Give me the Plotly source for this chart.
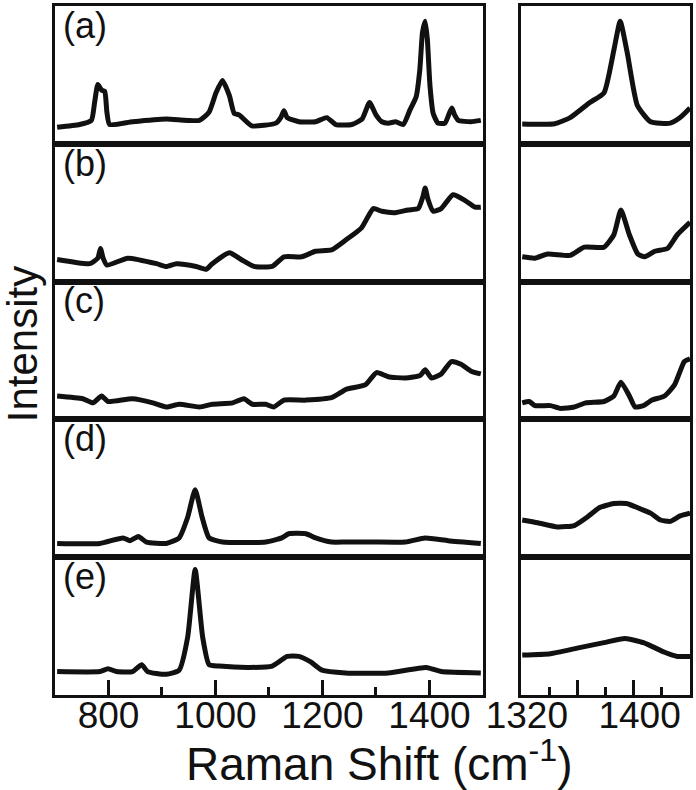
import plotly.graph_objects as go
from plotly.subplots import make_subplots

# spectra, intensity normalised to panel height (0..1)
a_full_x = [704, 746, 768, 774, 780, 787, 793, 797, 802, 845, 908, 970, 988, 1001, 1013, 1026, 1035, 1044, 1068, 1113, 1122, 1128, 1134, 1156, 1187, 1208, 1225, 1255, 1274, 1288, 1300, 1311, 1323, 1337, 1351, 1364, 1375, 1382, 1387, 1392, 1396, 1401, 1407, 1416, 1429, 1438, 1442, 1447, 1454, 1477, 1496]
a_full_y = [0.12, 0.14, 0.17, 0.30, 0.43, 0.39, 0.38, 0.23, 0.14, 0.16, 0.18, 0.17, 0.23, 0.37, 0.46, 0.35, 0.22, 0.21, 0.13, 0.15, 0.19, 0.24, 0.19, 0.16, 0.16, 0.19, 0.14, 0.14, 0.18, 0.30, 0.21, 0.16, 0.15, 0.16, 0.14, 0.25, 0.34, 0.54, 0.81, 0.89, 0.76, 0.42, 0.22, 0.15, 0.15, 0.23, 0.26, 0.21, 0.17, 0.16, 0.17]
a_zoom_x = [1321, 1344, 1355, 1369, 1379, 1386, 1390.5, 1395.5, 1402.6, 1412, 1426, 1433, 1440]
a_zoom_y = [0.144, 0.145, 0.19, 0.30, 0.37, 0.68, 0.89, 0.66, 0.28, 0.16, 0.15, 0.19, 0.26]

b_full_x = [704, 765, 780, 785, 790, 797, 836, 890, 908, 927, 964, 983, 994, 1026, 1048, 1072, 1106, 1128, 1161, 1187, 1217, 1243, 1273, 1295, 1311, 1336, 1360, 1379, 1388, 1392, 1397, 1407, 1422, 1444, 1466, 1485, 1496]
b_full_y = [0.16, 0.13, 0.17, 0.24, 0.17, 0.12, 0.17, 0.13, 0.11, 0.13, 0.11, 0.09, 0.13, 0.21, 0.16, 0.11, 0.11, 0.18, 0.18, 0.22, 0.23, 0.30, 0.39, 0.53, 0.51, 0.50, 0.52, 0.53, 0.62, 0.68, 0.60, 0.51, 0.53, 0.63, 0.59, 0.54, 0.54]
b_zoom_x = [1321, 1330, 1339, 1355, 1365, 1379, 1386, 1391, 1397, 1403, 1408, 1415, 1424, 1431, 1440]
b_zoom_y = [0.18, 0.17, 0.20, 0.19, 0.25, 0.25, 0.34, 0.52, 0.34, 0.20, 0.18, 0.22, 0.24, 0.34, 0.43]

c_full_x = [704, 752, 771, 787, 799, 845, 883, 908, 932, 970, 994, 1032, 1053, 1069, 1094, 1109, 1128, 1169, 1218, 1245, 1280, 1301, 1323, 1355, 1383, 1392, 1404, 1422, 1441, 1459, 1478, 1496]
c_full_y = [0.17, 0.15, 0.12, 0.17, 0.13, 0.15, 0.12, 0.09, 0.11, 0.09, 0.11, 0.12, 0.15, 0.11, 0.11, 0.09, 0.14, 0.14, 0.16, 0.22, 0.25, 0.34, 0.31, 0.30, 0.32, 0.36, 0.30, 0.33, 0.42, 0.40, 0.35, 0.33]
c_zoom_x = [1321, 1326, 1330, 1341, 1348, 1358, 1366, 1379, 1386, 1391, 1397, 1401, 1407, 1413, 1422, 1429, 1436, 1440]
c_zoom_y = [0.12, 0.13, 0.10, 0.10, 0.08, 0.09, 0.12, 0.13, 0.17, 0.27, 0.17, 0.09, 0.10, 0.14, 0.17, 0.25, 0.42, 0.44]

d_full_x = [704, 784, 827, 840, 856, 871, 908, 932, 948, 962, 975, 988, 1013, 1094, 1124, 1137, 1169, 1187, 1217, 1243, 1292, 1355, 1392, 1435, 1496]
d_full_y = [0.10, 0.10, 0.14, 0.12, 0.15, 0.11, 0.10, 0.14, 0.29, 0.49, 0.29, 0.14, 0.11, 0.11, 0.14, 0.17, 0.17, 0.14, 0.11, 0.11, 0.11, 0.11, 0.14, 0.12, 0.10]
d_zoom_x = [1321, 1332, 1346, 1358, 1367, 1376, 1386, 1395, 1405, 1412, 1419, 1426, 1433, 1440]
d_zoom_y = [0.27, 0.25, 0.22, 0.23, 0.29, 0.36, 0.39, 0.39, 0.35, 0.32, 0.27, 0.26, 0.30, 0.32]

e_full_x = [704, 784, 799, 815, 845, 862, 873, 908, 932, 948, 962, 976, 988, 1007, 1063, 1106, 1134, 1156, 1178, 1199, 1243, 1323, 1394, 1422, 1496]
e_full_y = [0.17, 0.17, 0.19, 0.17, 0.17, 0.22, 0.17, 0.15, 0.18, 0.42, 0.91, 0.42, 0.22, 0.21, 0.20, 0.21, 0.28, 0.28, 0.24, 0.18, 0.16, 0.16, 0.20, 0.17, 0.16]
e_zoom_x = [1321, 1341, 1360, 1379, 1394, 1407, 1422, 1431, 1440]
e_zoom_y = [0.29, 0.30, 0.34, 0.38, 0.41, 0.38, 0.31, 0.28, 0.28]

labels = ["(a)", "(b)", "(c)", "(d)", "(e)"]
full = [(a_full_x, a_full_y), (b_full_x, b_full_y), (c_full_x, c_full_y), (d_full_x, d_full_y), (e_full_x, e_full_y)]
zoom = [(a_zoom_x, a_zoom_y), (b_zoom_x, b_zoom_y), (c_zoom_x, c_zoom_y), (d_zoom_x, d_zoom_y), (e_zoom_x, e_zoom_y)]

FONT = "Liberation Sans, Arial, Helvetica, sans-serif"
INK = "#111111"

fig = make_subplots(rows=5, cols=2, column_widths=[430, 170],
                    horizontal_spacing=0.0596, vertical_spacing=0)

line = dict(color=INK, width=5, shape="spline", smoothing=0.5)

for i in range(5):
    fig.add_trace(go.Scatter(x=full[i][0], y=full[i][1], mode="lines", line=line,
                             showlegend=False, hoverinfo="skip"), row=i+1, col=1)
    fig.add_trace(go.Scatter(x=zoom[i][0], y=zoom[i][1], mode="lines", line=line,
                             showlegend=False, hoverinfo="skip"), row=i+1, col=2)
    fig.add_annotation(text=labels[i], xref="x domain", yref="y domain",
                       x=0.014, y=0.86, xanchor="left", yanchor="middle",
                       showarrow=False, font=dict(size=36, color=INK, family=FONT),
                       row=i+1, col=1)

axis_line = dict(showline=True, linewidth=3, linecolor=INK, mirror=True,
                 showgrid=False, zeroline=False)

fig.update_yaxes(range=[0, 1], showticklabels=False, ticks="", **axis_line)
fig.update_xaxes(showticklabels=False, ticks="", **axis_line)
fig.update_xaxes(range=[700, 1500], col=1)
fig.update_xaxes(range=[1320, 1440], col=2)

tickfont = dict(size=37, color=INK, family=FONT)
fig.update_xaxes(row=5, col=1, showticklabels=True, ticks="inside", ticklen=15, tickwidth=3,
                 tickcolor=INK, tickvals=[800, 1000, 1200, 1400], tickfont=tickfont,
                 ticklabelstandoff=-14,
                 minor=dict(ticks="inside", ticklen=8, tickwidth=3, tickcolor=INK,
                            tickvals=[900, 1100, 1300]))
fig.update_xaxes(row=5, col=2, showticklabels=True, ticks="inside", ticklen=15, tickwidth=3,
                 tickcolor=INK, tickvals=[1320, 1360, 1400], ticktext=["1320", "", "1400"],
                 tickfont=tickfont, ticklabelshift=6, ticklabelstandoff=-14,
                 minor=dict(ticks="inside", ticklen=8, tickwidth=3, tickcolor=INK,
                            tickvals=[1340, 1380, 1420]))

fig.add_annotation(text="Intensity", xref="paper", yref="paper", x=-0.052, y=0.509,
                   textangle=-90, showarrow=False, xanchor="center", yanchor="middle",
                   font=dict(size=42, color=INK, family=FONT))
fig.add_annotation(text="Raman Shift (cm<sup>-1</sup>)", xref="paper", yref="paper",
                   x=0.511, y=-0.096, showarrow=False, xanchor="center", yanchor="middle",
                   font=dict(size=46, color=INK, family=FONT))

fig.update_layout(width=696, height=790, margin=dict(l=55, r=3, t=3, b=95),
                  plot_bgcolor="white", paper_bgcolor="white")

fig.write_html("out.html", config={"displayModeBar": False},
               post_script="document.body.style.margin='0px';")
